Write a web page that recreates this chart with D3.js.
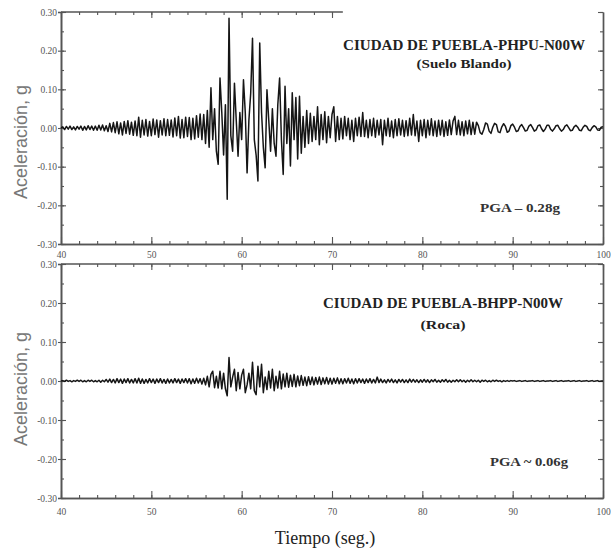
<!DOCTYPE html>
<html>
<head>
<meta charset="utf-8">
<script src="https://cdn.jsdelivr.net/npm/d3@7"></script>
<style>
  html, body { margin: 0; padding: 0; background: #fff; }
  svg { display: block; }
</style>
</head>
<body>
<svg id="chart" width="611" height="554"></svg>
<script>
// ---------------- DATA ----------------
const tStart = 40, tEnd = 100, dt = 0.2;           // seconds
const xTicks = [40, 50, 60, 70, 80, 90, 100];
const yTicks = [-0.30, -0.20, -0.10, 0.00, 0.10, 0.20, 0.30];
const yTickLabels = ["-0.30", "-0.20", "-0.10", "0.00", "0.10", "0.20", "0.30"];

// Upper record: CIUDAD DE PUEBLA-PHPU-N00W (Suelo Blando), acceleration in g, every 0.2 s from 40 s
const accSuelo = [
  0, 0.003, -0.004, 0.004, -0.003, 0.005, -0.004, 0.003, -0.005, 0.004,
  -0.003, 0.005, -0.006, 0.004, -0.005, 0.006, -0.004, 0.005, -0.006, 0.005,
  -0.006, 0.007, -0.005, 0.008, -0.007, 0.006, -0.009, 0.012, -0.010, 0.014,
  -0.012, 0.016, -0.015, 0.013, -0.018, 0.017, -0.014, 0.019, -0.016, 0.015,
  -0.019, 0.018, -0.020, 0.028, -0.024, 0.020, -0.018, 0.022, -0.021, 0.017,
  -0.020, 0.023, -0.017, 0.021, -0.024, 0.019, -0.018, 0.024, -0.020, 0.022,
  -0.019, 0.021, -0.023, 0.026, -0.020, 0.030, -0.026, 0.022, -0.025, 0.028,
  -0.022, 0.027, -0.030, 0.025, -0.028, 0.032, -0.024, 0.036, -0.030, 0.035,
  -0.040, 0.045, -0.050, 0.104, -0.030, 0.050, -0.060, -0.094, 0.129, 0.040,
  -0.070, 0.060, -0.184, 0.284, -0.020, -0.060, 0.116, 0.020, -0.073, 0.040,
  -0.030, 0.125, 0.040, -0.116, 0.020, 0.090, 0.232, -0.030, -0.070, -0.137,
  0.220, 0.040, -0.050, -0.103, 0.099, 0.020, -0.060, 0.050, -0.040, -0.073,
  0.060, 0.129, -0.030, -0.120, 0.108, -0.040, 0.050, -0.098, 0.091, -0.030,
  0.079, -0.080, 0.082, -0.065, 0.030, -0.050, 0.045, -0.040, 0.038, -0.035,
  0.030, -0.030, 0.055, -0.043, 0.035, -0.030, 0.042, -0.038, 0.030, -0.025,
  0.035, 0.055, -0.035, 0.030, -0.030, 0.025, -0.028, 0.030, -0.020, 0.025,
  -0.030, 0.020, -0.035, 0.025, -0.020, 0.028, -0.022, 0.040, -0.022, 0.020,
  -0.025, 0.022, -0.020, 0.025, -0.024, 0.020, -0.018, 0.022, -0.043, 0.020,
  -0.020, 0.025, -0.022, 0.018, -0.025, 0.022, -0.020, 0.024, -0.018, 0.020,
  -0.022, 0.019, -0.020, 0.025, -0.018, 0.035, -0.020, 0.018, -0.035, 0.020,
  -0.020, 0.022, -0.025, 0.020, -0.018, 0.024, -0.020, 0.018, -0.022, 0.020,
  -0.018, 0.020, -0.022, 0.016, -0.019, 0.021, -0.017, 0.018, 0.030, -0.017,
  0.020, -0.018, 0.016, -0.020, 0.018, -0.015, 0.020, -0.017, 0.015, -0.016,
  0.015, 0.006, -0.012, -0.016, -0.004, 0.013, 0.010, -0.008, -0.014, 0.002,
  0.012, 0.009, -0.010, -0.012, 0.003, 0.011, 0.004, -0.011, -0.008, 0.006,
  0.010, 0.002, -0.009, -0.007, 0.004, 0.009, 0.001, -0.008, -0.006, 0.005,
  0.009, 0.001, -0.008, -0.005, 0.006, 0.008, -0.002, -0.009, -0.003, 0.007,
  0.007, -0.003, -0.008, -0.002, 0.006, 0.007, -0.002, -0.008, -0.004, 0.005,
  0.008, 0.001, -0.007, -0.006, 0.003, 0.007, 0.002, -0.006, -0.007, 0.002,
  0.007, 0.004, -0.005, -0.007, 0.001, 0.006, 0.003, -0.005, -0.006, 0.002,
  0.003
];

// Lower record: CIUDAD DE PUEBLA-BHPP-N00W (Roca), acceleration in g, every 0.2 s from 40 s
const accRoca = [
  0, 0.001, -0.001, 0.002, -0.001, 0.001, -0.002, 0.001, -0.001, 0.002,
  -0.001, 0.002, -0.002, 0.001, -0.002, 0.002, -0.001, 0.002, -0.002, 0.001,
  -0.002, 0.002, -0.003, 0.002, -0.002, 0.004, -0.003, 0.005, -0.004, 0.004,
  -0.005, 0.006, -0.004, 0.005, -0.006, 0.005, -0.004, 0.006, -0.005, 0.004,
  -0.005, 0.006, -0.005, 0.007, -0.006, 0.005, -0.006, 0.004, -0.005, 0.006,
  -0.004, 0.005, -0.006, 0.005, -0.004, 0.006, -0.005, 0.004, -0.006, 0.005,
  -0.005, 0.004, -0.005, 0.006, -0.004, 0.005, -0.006, 0.005, -0.004, 0.006,
  -0.005, 0.006, -0.007, 0.005, -0.006, 0.007, -0.005, 0.006, -0.008, 0.007,
  -0.010, 0.012, -0.015, 0.017, 0.025, -0.017, 0.012, -0.018, 0.025, -0.020,
  0.020, -0.020, -0.038, 0.060, -0.015, 0.010, 0.030, -0.025, 0.022, -0.020,
  0.015, 0.030, -0.030, -0.010, 0.020, -0.020, 0.048, -0.025, -0.035, 0.038,
  -0.015, 0.043, -0.030, 0.010, -0.022, 0.025, -0.018, 0.030, -0.025, 0.012,
  -0.018, 0.025, -0.020, 0.018, -0.015, 0.020, -0.016, 0.015, -0.014, 0.017,
  -0.015, 0.013, -0.012, 0.014, -0.011, 0.010, -0.012, 0.011, -0.009, 0.010,
  -0.010, 0.009, -0.008, 0.010, -0.009, 0.008, -0.007, 0.009, -0.008, 0.007,
  -0.008, 0.007, -0.006, 0.008, -0.007, 0.006, -0.007, 0.006, -0.005, 0.007,
  -0.006, 0.005, -0.007, 0.006, -0.005, 0.006, -0.004, 0.005, -0.006, 0.005,
  -0.004, 0.006, -0.005, 0.004, -0.005, 0.010, -0.004, 0.005, -0.004, 0.003,
  -0.005, 0.004, -0.003, 0.005, -0.004, 0.003, -0.005, 0.004, -0.003, 0.004,
  -0.004, 0.003, -0.004, 0.005, -0.003, 0.004, -0.003, 0.003, -0.004, 0.003,
  -0.003, 0.004, -0.003, 0.003, -0.004, 0.003, -0.002, 0.004, -0.003, 0.002,
  -0.003, 0.003, -0.002, 0.004, -0.003, 0.002, -0.003, 0.002, -0.002, 0.003,
  -0.002, 0.003, -0.002, 0.002, -0.003, 0.002, -0.002, 0.003, -0.002, 0.002,
  -0.002, 0.002, -0.003, 0.002, -0.001, 0.002, -0.002, 0.001, -0.002, 0.002,
  -0.001, 0.002, -0.001, 0.001, -0.002, 0.001, -0.001, 0.001, -0.001, 0.001,
  0, 0.001, -0.001, 0, 0.001, -0.001, 0, 0.001, -0.001, 0,
  0, 0.001, -0.001, 0, 0.001, -0.001, 0, 0.001, -0.001, 0,
  0, 0.001, -0.001, 0, 0.001, -0.001, 0, 0.001, -0.001, 0,
  0, 0.001, -0.001, 0, 0.001, -0.001, 0, 0.001, -0.001, 0,
  0, 0.001, -0.001, 0, 0.001, -0.001, 0, 0.001, -0.001, 0,
  0
];

const panels = [
  { values: accSuelo, title: "CIUDAD DE PUEBLA-PHPU-N00W", sub: "(Suelo Blando)", pga: "PGA \u2013 0.28g" },
  { values: accRoca,  title: "CIUDAD DE PUEBLA-BHPP-N00W", sub: "(Roca)",        pga: "PGA ~ 0.06g" }
];

// ---------------- LAYOUT ----------------
const svg = d3.select("#chart");
const left = 61, right = 603;
const frames = [
  { top: 12,  bottom: 244, labelPad: 7,  titleX: 464, titleY: 50,  titleW: 242, subY: 68,  subW: 95, pgaX: 520, pgaY: 212, pgaW: 80, ylabY: 142, topEnd: 71.2 },
  { top: 264, bottom: 498, labelPad: 10, titleX: 443, titleY: 308, titleW: 240, subY: 329, subW: 45, pgaX: 529, pgaY: 466, pgaW: 78, ylabY: 389, topEnd: 100 }
];
const axisColor = "#555";
const x = d3.scaleLinear().domain([tStart, tEnd]).range([left, right]);
const minorX = d3.range(tStart, tEnd + 0.001, 2);
const minorY = d3.range(-0.30, 0.3001, 0.05);

panels.forEach((p, k) => {
  const f = frames[k];
  const y = d3.scaleLinear().domain([-0.30, 0.30]).range([f.bottom, f.top]);
  const g = svg.append("g");

  const styleAxis = sel => {
    sel.selectAll("path.domain").attr("stroke", axisColor).attr("stroke-width", 1.4);
    sel.selectAll(".tick line").attr("stroke", axisColor).attr("stroke-width", 1.1);
    sel.selectAll(".tick text").attr("fill", "#555")
      .style("font-family", "'Liberation Serif', serif").style("font-size", "9.5px");
  };

  // left axis: labels + outward part of major ticks
  g.append("g").attr("transform", `translate(${left},0)`)
    .call(d3.axisLeft(y).tickValues(yTicks).tickFormat((d, i) => yTickLabels[i]).tickSize(3).tickPadding(1))
    .call(styleAxis);
  // inward major + minor
  g.append("g").attr("transform", `translate(${left},0)`)
    .call(d3.axisLeft(y).tickValues(yTicks).tickFormat("").tickSize(-5).tickSizeOuter(0))
    .call(styleAxis);
  g.append("g").attr("transform", `translate(${left},0)`)
    .call(d3.axisLeft(y).tickValues(minorY).tickFormat("").tickSize(-3).tickSizeOuter(0))
    .call(styleAxis);
  // right axis
  g.append("g").attr("transform", `translate(${right},0)`)
    .call(d3.axisRight(y).tickValues(yTicks).tickFormat("").tickSize(-5).tickSizeOuter(0))
    .call(styleAxis);
  g.append("g").attr("transform", `translate(${right},0)`)
    .call(d3.axisRight(y).tickValues(minorY).tickFormat("").tickSize(-3).tickSizeOuter(0))
    .call(styleAxis);

  // bottom axis
  g.append("g").attr("transform", `translate(0,${f.bottom})`)
    .call(d3.axisBottom(x).tickValues(xTicks).tickFormat(d3.format("d")).tickSize(-7).tickSizeOuter(0).tickPadding(f.labelPad))
    .call(styleAxis);
  g.append("g").attr("transform", `translate(0,${f.bottom})`)
    .call(d3.axisBottom(x).tickValues(minorX).tickFormat("").tickSize(-3).tickSizeOuter(0))
    .call(styleAxis);

  // top border (partly missing in the upper panel)
  const topAx = g.append("g").attr("transform", `translate(0,${f.top})`)
    .call(d3.axisTop(x).tickValues(xTicks.filter(d => d <= f.topEnd)).tickFormat("").tickSize(-6).tickSizeOuter(0))
    .call(styleAxis);
  topAx.select("path.domain").remove();
  g.append("g").attr("transform", `translate(0,${f.top})`)
    .call(d3.axisTop(x).tickValues(minorX.filter(d => d <= f.topEnd)).tickFormat("").tickSize(-3).tickSizeOuter(0))
    .call(styleAxis)
    .select("path.domain").remove();
  g.append("line")
    .attr("x1", x(tStart)).attr("x2", x(f.topEnd))
    .attr("y1", f.top).attr("y2", f.top)
    .attr("stroke", axisColor).attr("stroke-width", 1.4);

  // trace
  const line = d3.line()
    .x((d, i) => x(tStart + i * dt))
    .y(d => y(d));
  g.append("path")
    .datum(p.values)
    .attr("d", line)
    .attr("fill", "none")
    .attr("stroke", "#151515")
    .attr("stroke-width", 1.5)
    .attr("stroke-linejoin", "round");

  // annotations
  const serif = "'Liberation Serif', 'Times New Roman', serif";
  g.append("text").text(p.title)
    .attr("x", f.titleX).attr("y", f.titleY).attr("text-anchor", "middle")
    .attr("textLength", f.titleW).attr("lengthAdjust", "spacingAndGlyphs")
    .style("font-family", serif).style("font-weight", "bold").style("font-size", "14px").attr("fill", "#222");
  g.append("text").text(p.sub)
    .attr("x", f.titleX).attr("y", f.subY).attr("text-anchor", "middle")
    .attr("textLength", f.subW).attr("lengthAdjust", "spacingAndGlyphs")
    .style("font-family", serif).style("font-weight", "bold").style("font-size", "13px").attr("fill", "#222");
  g.append("text").text(p.pga)
    .attr("x", f.pgaX).attr("y", f.pgaY).attr("text-anchor", "middle")
    .attr("textLength", f.pgaW).attr("lengthAdjust", "spacingAndGlyphs")
    .style("font-family", serif).style("font-weight", "bold").style("font-size", "13px").attr("fill", "#333");

  // y axis title
  g.append("text").text("Aceleración, g")
    .attr("transform", `translate(27,${f.ylabY}) rotate(-90)`)
    .attr("text-anchor", "middle")
    .style("font-family", "'Liberation Sans', Arial, sans-serif").style("font-size", "18px")
    .attr("fill", "#777");
});

// x axis title
svg.append("text").text("Tiempo (seg.)")
  .attr("x", 325).attr("y", 544).attr("text-anchor", "middle")
  .style("font-family", "'Liberation Serif', 'Times New Roman', serif").style("font-size", "18px")
  .attr("fill", "#222");
</script>
</body>
</html>
